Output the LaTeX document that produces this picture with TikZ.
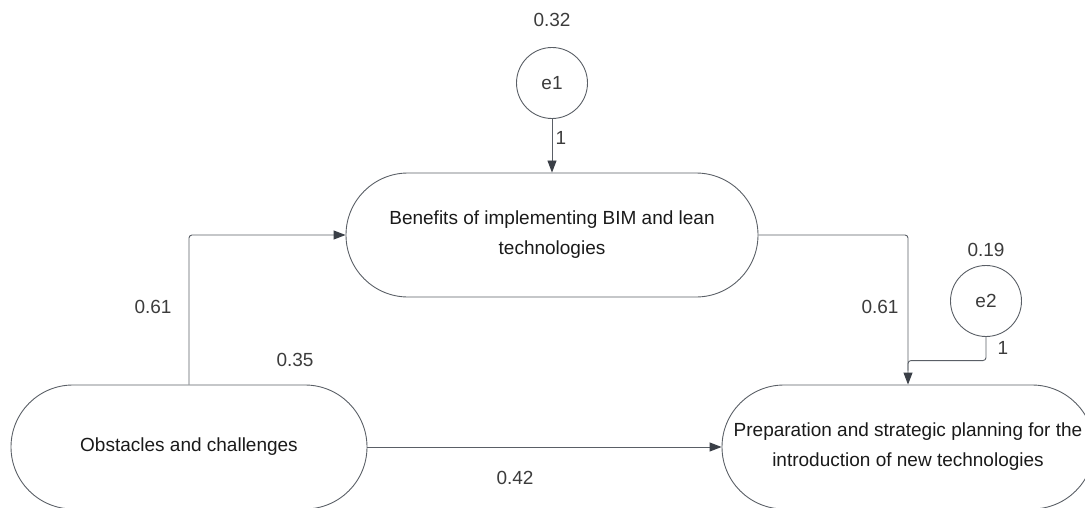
\documentclass[tikz,border=0pt]{standalone}
\usepackage{fontspec}
\setmainfont{Liberation Sans}
\usetikzlibrary{arrows.meta,calc}
\definecolor{lncol}{HTML}{5A5F66}
\definecolor{tipcol}{HTML}{3A3F47}
\definecolor{txtcol}{HTML}{1A1A1A}
\definecolor{numcol}{HTML}{3C3C3C}
\begin{document}
\begin{tikzpicture}[x=1pt,y=-1pt,
  every node/.style={font=\fontsize{19}{30}\selectfont, text=txtcol},
  stadium/.style={draw=lncol, line width=0.9pt, rectangle, rounded corners=62pt,
    minimum height=124pt, align=center, inner sep=0pt},
  errc/.style={draw=lncol, line width=0.9pt, circle, minimum size=71pt, inner sep=0pt, text=numcol},
  num/.style={text=numcol, inner sep=0pt},
  conn/.style={draw=lncol, line width=0.9pt},
  arr/.style={conn, -{Triangle[length=12pt,width=9pt,fill=tipcol,color=tipcol]}}
]
\useasboundingbox (0,0) rectangle (1085,508);
\clip (0,0) rectangle (1085,508);
% nodes
\node[stadium, minimum width=412pt] (top) at (552,235) {Benefits of implementing BIM and lean\\technologies};
\node[stadium, minimum width=356pt] (obs) at (189,447) {Obstacles and challenges};
\node[stadium, minimum width=372pt] (prep) at (908,447) {Preparation and strategic planning for the\\introduction of new technologies};
\node[errc] (e1) at (552,83) {e1};
\node[errc] (e2) at (986,301) {e2};
% connectors
\draw[arr] (e1.south) -- (top.north);
\draw[arr, rounded corners=3pt] (obs.north) |- (top.west);
\draw[arr, rounded corners=3pt] (top.east) -| (prep.north);
\coordinate (j) at ($(prep.north)+(0,-24)$);
\draw[conn, rounded corners=3pt] (e2.south) |- (j) -- ($(j)+(0,10)$);
\draw[arr] (obs.east) -- (prep.west);
% labels
\node[num] (l032) at (552,20) {0.32};
\node[num] (l1a) at (561,138) {1};
\node[num] (l061a) at (153,307) {0.61};
\node[num] (l035) at (295,360) {0.35};
\node[num] (l061b) at (880,307) {0.61};
\node[num] (l019) at (986,250) {0.19};
\node[num] (l1b) at (1003,348) {1};
\node[num] (l042) at (515,478) {0.42};
\end{tikzpicture}
\end{document}
